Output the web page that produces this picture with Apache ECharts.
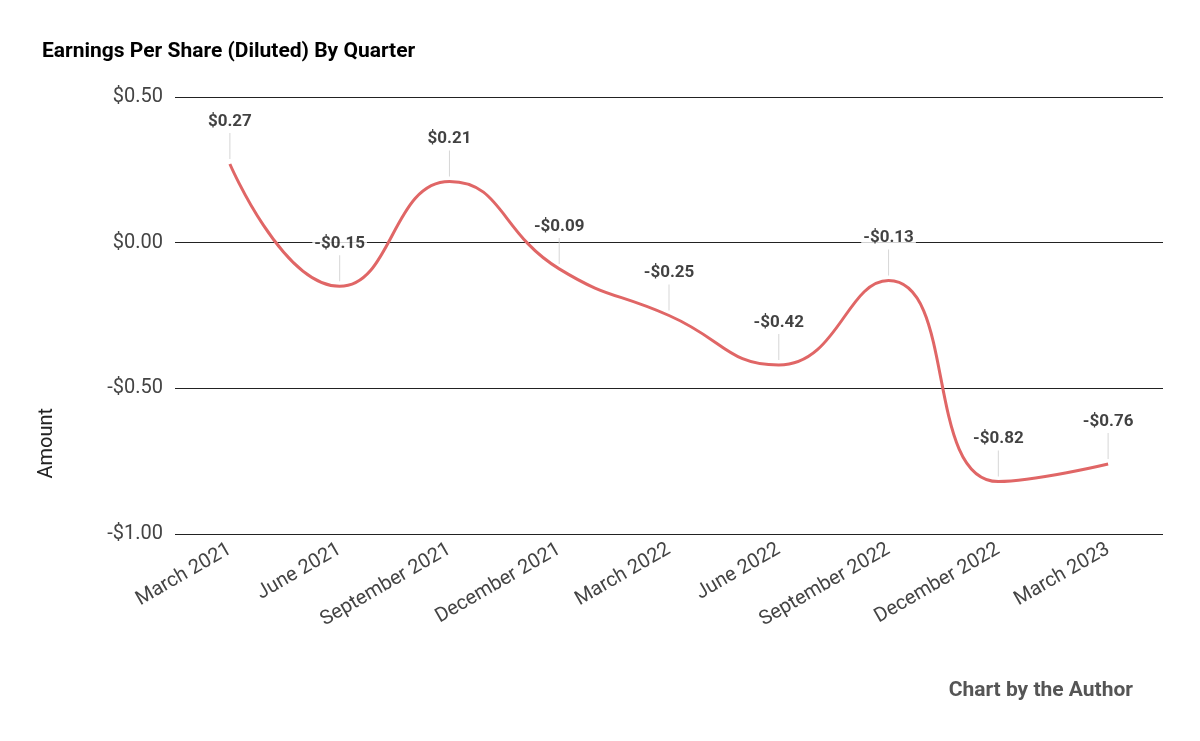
<!DOCTYPE html>
<html><head><meta charset="utf-8">
<script src="https://cdn.jsdelivr.net/npm/echarts@6/dist/echarts.min.js"></script>
<style>html,body{margin:0;background:#fff}#c{width:1200px;height:741px}</style>
</head><body><div id="c"></div>
<script>
const quarters = ['March 2021', 'June 2021', 'September 2021', 'December 2021', 'March 2022',
	'June 2022', 'September 2022', 'December 2022', 'March 2023']
const eps = [0.27, -0.15, 0.21, -0.09, -0.25, -0.42, -0.13, -0.82, -0.76]

const money = v => (v < 0 ? '-$' : '$') + Math.abs(v).toFixed(2)

const chart = echarts.init(document.getElementById('c'))
chart.setOption({
	backgroundColor: '#fff',
	animation: false,
	title: {
		text: 'Earnings Per Share (Diluted) By Quarter',
		left: 37, top: 36,
		textStyle: { fontFamily: 'Roboto', fontSize: 21, fontWeight: 'bold', color: '#000' }
	},
	graphic: [{
		type: 'text', right: 67, top: 680,
		style: { text: 'Chart by the Author', font: 'bold 21px Roboto', fill: '#555' }
	}, {
		type: 'text', left: 37, top: 408, rotation: Math.PI / 2,
		style: { text: 'Amount', font: '20px Roboto', fill: '#222' }
	}],
	grid: { left: 175, right: 37, top: 97, bottom: 207 },
	xAxis: {
		type: 'category',
		data: quarters,
		axisLine: { show: false },
		axisTick: { show: false },
		axisLabel: { rotate: 30, fontFamily: 'Roboto', fontSize: 20, color: '#444', margin: 14, interval: 0 }
	},
	yAxis: {
		type: 'value',
		min: -1, max: 0.5, interval: 0.5,
		axisLabel: { formatter: money, fontFamily: 'Roboto', fontSize: 20, color: '#444', margin: 12 },
		splitLine: { lineStyle: { color: '#222', width: 1 } }
	},
	series: [{
		type: 'line',
		data: eps,
		smooth: 0.5,
		symbol: 'none',
		lineStyle: { color: '#e06666', width: 3 },
		z: 2
	}, {
		// short leader ticks above each point, carrying the value labels
		type: 'scatter',
		data: eps,
		symbol: 'rect',
		symbolSize: [1, 26],
		symbolOffset: [0, -18],
		itemStyle: { color: '#ccc' },
		label: {
			show: true, position: 'top', distance: 2,
			formatter: p => money(p.value),
			fontFamily: 'Roboto', fontSize: 17, fontWeight: 'bold', color: '#111',
			backgroundColor: '#fff', padding: [1, 2]
		},
		labelLayout: { hideOverlap: false },
		z: 3
	}]
})
</script></body></html>
